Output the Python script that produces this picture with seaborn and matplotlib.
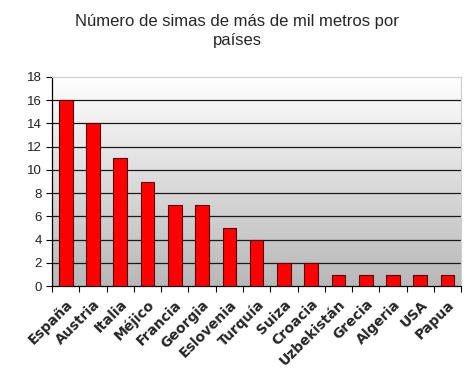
import matplotlib.pyplot as plt
import numpy as np
import pandas as pd
import seaborn as sns

paises = ['España', 'Austria', 'Italia', 'Méjico', 'Francia', 'Georgia', 'Eslovenia',
          'Turquía', 'Suiza', 'Croacia', 'Uzbekistán', 'Grecia', 'Algeria', 'USA', 'Papua']
simas = [16, 14, 11, 9, 7, 7, 5, 4, 2, 2, 1, 1, 1, 1, 1]

df = pd.DataFrame({'País': paises, 'Simas': simas})

sns.set_style('white')
plt.rcParams['font.family'] = ['Liberation Sans', 'DejaVu Sans']

fig = plt.figure(figsize=(4.74, 3.79), dpi=100)
ax = fig.add_axes([0.110, 0.245, 0.863, 0.552])

# fondo degradado tipo Excel
grad = np.linspace(1.0, 0.0, 256).reshape(-1, 1)
ax.imshow(grad, extent=[-0.5, len(paises) - 0.5, 0, 18], aspect='auto',
          cmap=plt.matplotlib.colors.LinearSegmentedColormap.from_list('g', ['#b8b8b8', '#ffffff']),
          zorder=0, origin='upper')

sns.barplot(data=df, x='País', y='Simas', color='#ff0000', edgecolor='#5a0000',
            linewidth=0.8, width=0.5, saturation=1, ax=ax, zorder=3)

ax.set_xlim(-0.5, len(paises) - 0.5)
ax.set_ylim(0, 18)
ax.set_yticks(range(0, 19, 2))
for y in range(2, 18, 2):
    ax.axhline(y, color='#1a1a1a', lw=0.9, zorder=1)

ax.set_xlabel('')
ax.set_ylabel('')
# título centrado en la figura, no en los ejes
ax.set_title('Número de simas de más de mil metros por\npaíses', fontsize=12,
             x=(0.5 - 0.110) / 0.863, pad=23, linespacing=1.3)

ax.set_xticks(np.arange(-0.5, len(paises), 1), minor=True)
ax.set_xticks(range(len(paises)))
ax.set_xticklabels(paises, rotation=45, ha='right', rotation_mode='anchor',
                   fontsize=10, fontweight='bold', family='DejaVu Sans')
ax.tick_params(axis='x', which='major', length=0, pad=8)
ax.tick_params(axis='x', which='minor', length=4, width=0.8, color='black', direction='out', bottom=True)
ax.tick_params(axis='y', length=4, width=0.8, color='black', direction='out', left=True,
               labelsize=9.5, labelcolor='#222222')

for s in ['left', 'bottom']:
    ax.spines[s].set_color('black')
    ax.spines[s].set_linewidth(0.9)
for s in ['top', 'right']:
    ax.spines[s].set_color('#d0d0d0')
    ax.spines[s].set_linewidth(0.9)

fig.savefig('out.png', dpi=100)
